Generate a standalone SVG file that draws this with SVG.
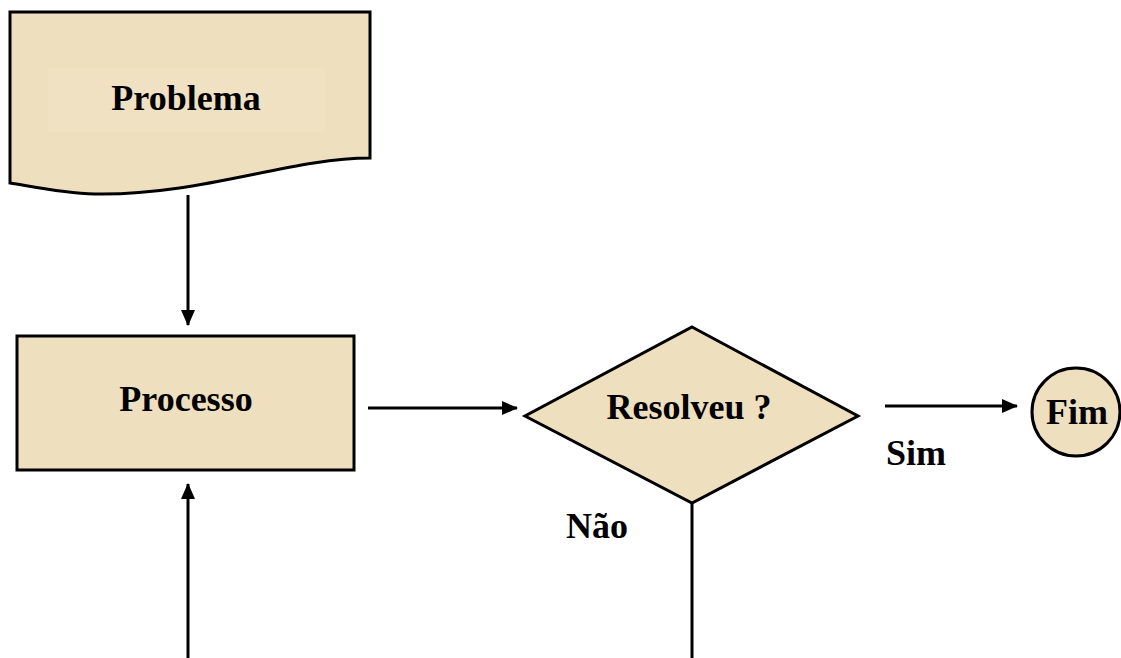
<svg xmlns="http://www.w3.org/2000/svg" width="1121" height="658" viewBox="0 0 1121 658">
<style>
.shape{fill:#eedfbf;stroke:#000;stroke-width:3}
.lbl{font-family:"Liberation Serif","Times New Roman",serif;font-weight:bold;font-size:36px;fill:#000;text-anchor:middle}
.edge{stroke:#000;stroke-width:3;fill:none}
.side{font-family:"Liberation Serif","Times New Roman",serif;font-weight:bold;font-size:36px;fill:#000}
</style>
<defs>
<marker id="arrB" markerWidth="16" markerHeight="14" refX="15" refY="7" orient="auto" markerUnits="userSpaceOnUse" viewBox="0 0 16 14">
<path d="M0,0 L16,7 L0,14 Z" fill="#000"/>
</marker>
</defs>
<g id="connectors">
<line class="edge" x1="188" y1="195" x2="188" y2="325" marker-end="url(#arrB)"/>
<line class="edge" x1="368" y1="408" x2="517" y2="408" marker-end="url(#arrB)"/>
<line class="edge" x1="885" y1="406" x2="1017" y2="406" marker-end="url(#arrB)"/>
<line class="edge" x1="692" y1="503" x2="692" y2="658"/>
<line class="edge" x1="188" y1="658" x2="188" y2="484" marker-end="url(#arrB)"/>
</g>
<g id="problema">
<path class="shape" d="M10,12 H370 V158 C 290,158 200,196 95,194 C 60,193 30,186 10,183 Z"/>
<rect x="48" y="68" width="277" height="64" fill="#f1e4c8" opacity="0.5"/>
<text class="lbl" x="186" y="110">Problema</text>
</g>
<g id="processo">
<rect class="shape" x="17" y="336" width="337" height="134"/>
<text class="lbl" x="186" y="411">Processo</text>
</g>
<g id="resolveu">
<path class="shape" d="M692,327 L858,416 L692,503 L525,416 Z"/>
<text class="lbl" x="689" y="419">Resolveu ?</text>
</g>
<g id="fim">
<circle class="shape" cx="1076" cy="412" r="44"/>
<text class="lbl" x="1077" y="424">Fim</text>
</g>
<g id="labels">
<text class="side" x="886" y="465">Sim</text>
<text class="side" x="566" y="538">Não</text>
</g>
</svg>
